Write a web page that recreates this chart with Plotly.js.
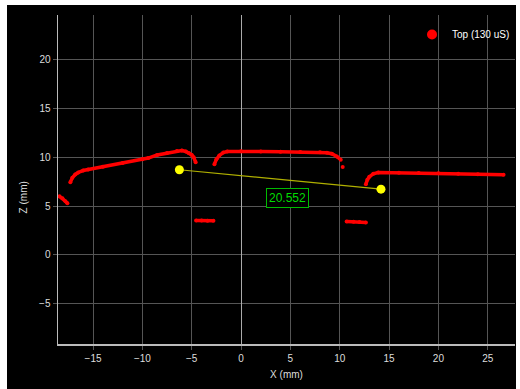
<!DOCTYPE html>
<html>
<head>
<meta charset="utf-8">
<script src="https://cdn.plot.ly/plotly-3.0.1.min.js"></script>
<style>
html,body{margin:0;padding:0;background:#fff;width:520px;height:389px;overflow:hidden;}
#chart{position:absolute;left:7px;top:5px;width:509px;height:384px;background:#000;}
</style>
</head>
<body>
<div id="chart"></div>
<script>
// Profile "Top (130 uS)" – segments separated by null
const profileX = [-18.4, -18.1, -17.8, -17.6, null,
  -17.3, -17.1, -16.8, -16.5, -16.0, -15.5, -14, -12, -10, -9.4, -8.5, -7.5, -6.5, -6.0, -5.6, -5.3, -5.0, -4.8, -4.6, null,
  -2.7, -2.5, -2.2, -1.8, -1.4, 0, 2, 4, 6, 8, 8.7, 9.2, 9.7, 10.1, null,
  10.3, null,
  12.65, 12.8, 13.0, 13.4, 13.9, 16, 18, 20, 22, 24, 26.6, null,
  -4.56, -4.0, -3.4, -2.8, null,
  10.7, 11.4, 12.0, 12.65];
const profileZ = [6.0, 5.8, 5.5, 5.3, null,
  7.45, 7.9, 8.25, 8.45, 8.65, 8.75, 9.05, 9.42, 9.8, 9.93, 10.25, 10.45, 10.65, 10.7, 10.6, 10.45, 10.25, 10.0, 9.5, null,
  9.3, 9.8, 10.2, 10.5, 10.6, 10.62, 10.6, 10.58, 10.55, 10.52, 10.48, 10.37, 10.1, 9.75, null,
  9.0, null,
  7.25, 7.7, 8.0, 8.32, 8.45, 8.43, 8.4, 8.36, 8.32, 8.28, 8.22, null,
  3.52, 3.52, 3.5, 3.5, null,
  3.43, 3.4, 3.37, 3.33];
const seriesName = 'Top (130 uS)';

// Measurement points
const measureX = [-6.25, 14.18];
const measureZ = [8.73, 6.74];
const measureLabel = '20.552';
const measureLabelPos = [4.7, 5.85];

const traces = [
  {x: profileX, y: profileZ, mode: 'lines+markers', connectgaps: false,
   line: {color: '#ff0000', width: 3.5}, marker: {color: '#ff0000', size: 4},
   showlegend: false, hoverinfo: 'skip'},
  {x: [null], y: [null], mode: 'markers', name: seriesName,
   marker: {color: '#ff0000', size: 10}},
  {x: measureX, y: measureZ, mode: 'lines+markers', showlegend: false,
   line: {color: '#b0b000', width: 1.2}, marker: {color: '#ffff00', size: 9}}
];

const fontFam = 'Liberation Sans, Arial, sans-serif';
const layout = {
  width: 509, height: 384,
  margin: {l: 51, r: 1, t: 10, b: 45},
  paper_bgcolor: '#000', plot_bgcolor: '#000',
  font: {family: fontFam, color: '#dddddd', size: 10},
  showlegend: true,
  legend: {x: 1.0, xanchor: 'right', y: 0.985, yanchor: 'top', bgcolor: 'rgba(0,0,0,0)',
    font: {family: fontFam, size: 10, color: '#ffffff'}, itemwidth: 30},
  xaxis: {range: [-18.55, 27.76], tick0: 0, dtick: 5, showgrid: true, gridcolor: '#555555', gridwidth: 1,
    zeroline: true, zerolinecolor: '#aaaaaa', zerolinewidth: 1,
    showline: true, linecolor: '#bbbbbb', linewidth: 1.5,
    ticks: 'outside', ticklen: 4, tickcolor: '#555555',
    tickfont: {family: fontFam, size: 10, color: '#dddddd'},
    title: {text: 'X (mm)', font: {family: fontFam, size: 10, color: '#dddddd'}, standoff: 8}},
  yaxis: {range: [-9.14, 24.6], tick0: 0, dtick: 5, showgrid: true, gridcolor: '#555555', gridwidth: 1,
    zeroline: false,
    showline: true, linecolor: '#bbbbbb', linewidth: 1.5,
    ticks: 'outside', ticklen: 4, tickcolor: '#555555',
    tickfont: {family: fontFam, size: 10, color: '#dddddd'}},
  annotations: [
    {x: measureLabelPos[0], y: measureLabelPos[1], xref: 'x', yref: 'y', text: measureLabel, showarrow: false,
     font: {family: fontFam, size: 12, color: '#00dd00'}, bordercolor: '#00bb00', borderwidth: 1, borderpad: 2,
     bgcolor: '#000'},
    {x: -0.092, y: 0.447, xref: 'paper', yref: 'paper', text: 'Z (mm)', showarrow: false, textangle: -90,
     font: {family: fontFam, size: 10, color: '#dddddd'}}
  ]
};

Plotly.newPlot('chart', traces, layout, {displayModeBar: false, staticPlot: true});
</script>
</body>
</html>
